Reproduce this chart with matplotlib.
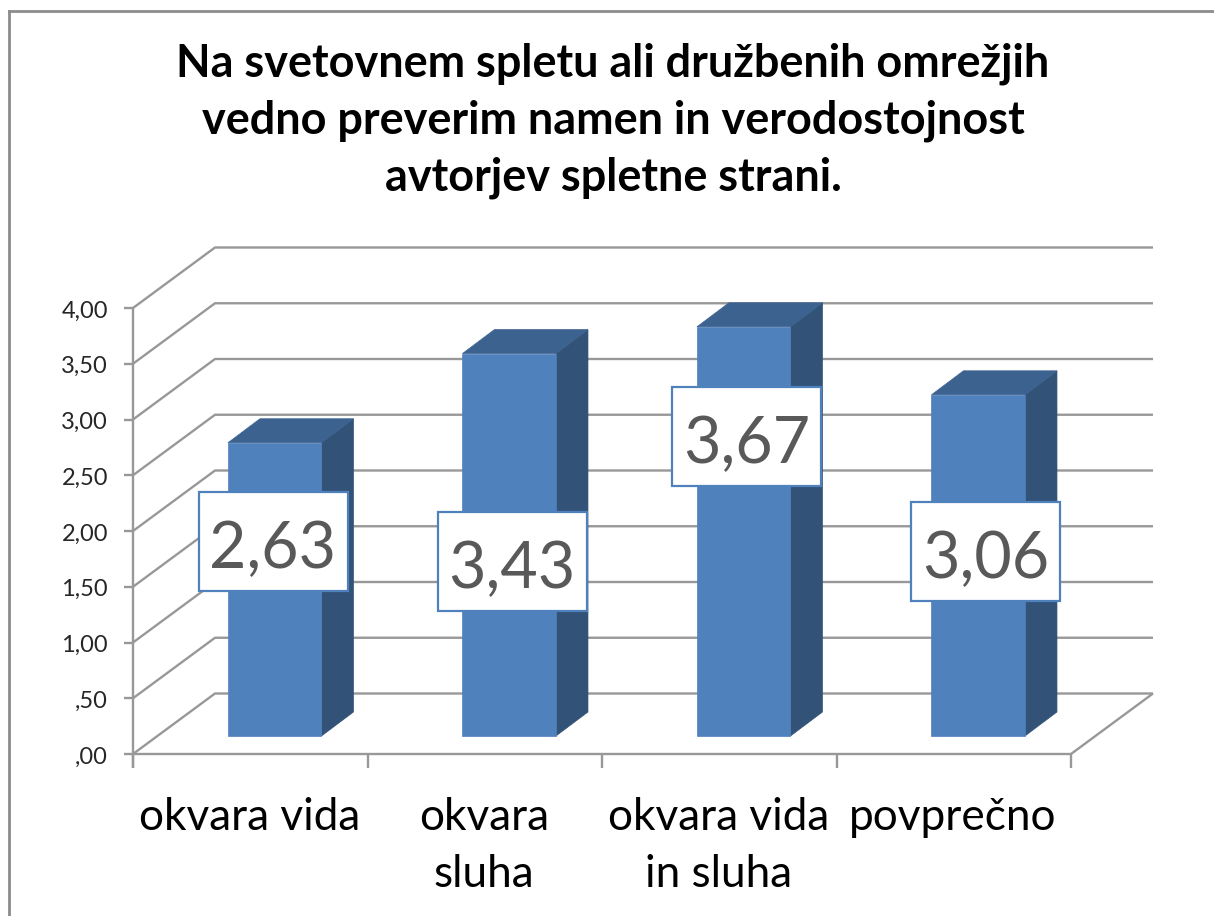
import matplotlib
matplotlib.use("Agg")
import matplotlib.pyplot as plt
from matplotlib.lines import Line2D
from matplotlib.patches import Polygon, Rectangle

categories = ["okvara vida", "okvara\nsluha", "okvara vida\nin sluha", "povprečno"]
values = [2.63, 3.43, 3.67, 3.06]
value_labels = ["2,63", "3,43", "3,67", "3,06"]
y_ticks = [0, 0.5, 1, 1.5, 2, 2.5, 3, 3.5, 4]
y_tick_labels = [",00", ",50", "1,00", "1,50", "2,00", "2,50", "3,00", "3,50", "4,00"]
title = "Na svetovnem spletu ali družbenih omrežjih\nvedno preverim namen in verodostojnost\navtorjev spletne strani."

W, H = 1214, 916
# pixels per category / per value unit, origin of the front axis
CAT_PX = 234.5
VAL_PX = 111.5
X0, Y0 = 133, 754

FRONT = "#4F81BD"
TOP = "#3C6290"
SIDE = "#325278"
GRID = "#989898"


def px(x, y):
    return (x - X0) / CAT_PX, (Y0 - y) / VAL_PX


fig = plt.figure(figsize=(W / 100, H / 100), dpi=100)
ax = fig.add_axes([0, 0, 1, 1])
ax.set_xlim(px(0, 0)[0], px(W, 0)[0])
ax.set_ylim(px(0, H)[1], px(0, 0)[1])
ax.axis("off")
plt.rcParams["font.family"] = ["Lato", "DejaVu Sans"]

# depth of the chart floor and of the bars
dx, dy = 82 / CAT_PX, 60.5 / VAL_PX
bar_dx, bar_dy = 32 / CAT_PX, 24 / VAL_PX
bar_base = 18 / VAL_PX
bar_w = 93.5 / CAT_PX
n = len(categories)
line = dict(color=GRID, lw=1.7, solid_capstyle="butt", zorder=1)

# walls
for t in y_ticks:
    ax.plot([0, dx, n + dx], [t, t + dy, t + dy], **line)
    ax.plot([-9 / CAT_PX, 0], [t, t], **line)
ax.plot([0, 0], [-14 / VAL_PX, 4], **line)
ax.plot([0, n, n + dx], [0, 0, dy], **line)
for i in range(n + 1):
    ax.plot([i, i], [0, -14 / VAL_PX], **line)

for t, lab in zip(y_ticks, y_tick_labels):
    ax.text(-25 / CAT_PX, t - 3 / VAL_PX, lab, ha="right", va="center", fontsize=17, color="#262626")

# bars
for i, v in enumerate(values):
    left = i + 0.405
    right = left + bar_w
    top = bar_base + v
    ax.add_patch(Polygon([(right, bar_base), (right + bar_dx, bar_base + bar_dy),
                          (right + bar_dx, top + bar_dy), (right, top)],
                         fc=SIDE, ec=SIDE, lw=0.5, zorder=2))
    ax.add_patch(Polygon([(left, top), (left + bar_dx, top + bar_dy),
                          (right + bar_dx, top + bar_dy), (right, top)],
                         fc=TOP, ec=TOP, lw=0.5, zorder=2))
    ax.add_patch(Rectangle((left, bar_base), bar_w, v, fc=FRONT, ec=FRONT, lw=0.5, zorder=3))

# value boxes, centres read in pixels
box_centres = [(273, 541.5), (512, 561.5), (747, 436.5), (985.5, 551.5)]
for (cx, cy), lab in zip(box_centres, value_labels):
    x, y = px(cx, cy)
    bw, bh = 149 / CAT_PX, 99 / VAL_PX
    ax.add_patch(Rectangle((x - bw / 2, y - bh / 2), bw, bh, fc="white", ec=FRONT, lw=1.6, zorder=4))
    ax.text(x, y - 8 / VAL_PX, lab, ha="center", va="center", fontsize=46.5, color="#595959", zorder=5)

# category labels
for i, lab in enumerate(categories):
    x, y = px(133 + CAT_PX * (i + 0.497), 0)
    ax.text(x, px(0, 797.5)[1], lab, ha="center", va="top", fontsize=31.8, color="black", linespacing=1.48)

ax.text(px(613, 0)[0], px(0, 121)[1], title, ha="center", va="center",
        fontsize=32.4, fontweight="bold", color="black", linespacing=1.43)

# outer chart frame, only left and top show in the crop
frame = dict(color="#8C8C8C", lw=2, transform=fig.transFigure)
fig.add_artist(Line2D([8.5 / W, 8.5 / W], [0, 1 - 10.5 / H], **frame))
fig.add_artist(Line2D([8.5 / W, 1], [1 - 10.5 / H, 1 - 10.5 / H], **frame))

fig.savefig("out.png", dpi=100)
